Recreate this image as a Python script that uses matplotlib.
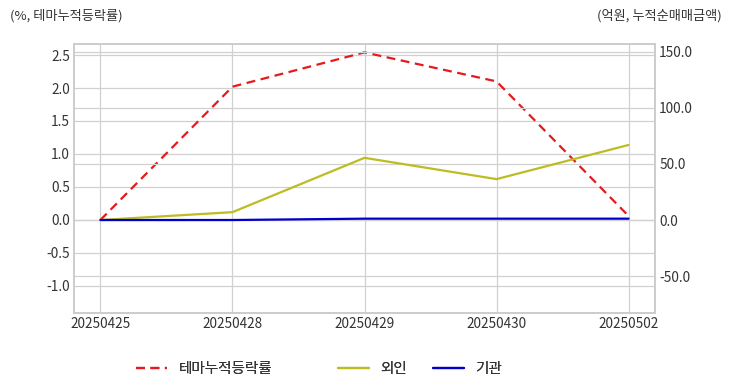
import matplotlib
matplotlib.use("Agg")
import matplotlib.pyplot as plt
import seaborn as sns

sns.set_style("whitegrid")
plt.rcParams["font.family"] = ["Noto Sans CJK KR", "DejaVu Sans"]

dates = ["20250425", "20250428", "20250429", "20250430", "20250502"]
theme_return = [0.0, 2.02, 2.54, 2.10, 0.06]   # %, 테마누적등락률
foreign = [0.0, 7.0, 55.5, 36.5, 67.0]          # 억원, 외인
institution = [0.0, 0.0, 1.2, 1.2, 1.2]         # 억원, 기관

fig = plt.figure(figsize=(7.32, 3.92), dpi=100)
ax = fig.add_axes([74 / 732, 1 - 313 / 392, 581 / 732, 269 / 392])
ax2 = ax.twinx()

x = list(range(len(dates)))
l1, = ax.plot(x, theme_return, color="#e41a1c", ls="--", lw=1.6, dashes=(4, 2.5), label="테마누적등락률")
l2, = ax2.plot(x, foreign, color="#bcbd22", lw=1.6, label="외인")
l3, = ax2.plot(x, institution, color="#0000cc", lw=1.6, label="기관")

ax.set_xlim(-0.2, 4.2)
ax.set_ylim(-1.41, 2.667)
ax2.set_ylim(-83, 157.1)
ax.set_yticks([-1.0, -0.5, 0.0, 0.5, 1.0, 1.5, 2.0, 2.5])
ax.set_yticklabels([f"{v:.1f}" for v in ax.get_yticks()])
ax2.set_yticks([-50, 0, 50, 100, 150])
ax2.set_yticklabels([f"{v:.1f}" for v in ax2.get_yticks()])
ax.set_xticks(x)
ax.set_xticklabels(dates)

for a in (ax, ax2):
    a.tick_params(labelsize=9.8, colors="#333333", length=0, pad=3)
    a.grid(True, color="#d0d0d0", lw=0.9)
    for s in a.spines.values():
        s.set_color("#cccccc")
        s.set_linewidth(1.2)
ax2.grid(True, axis="y", color="#d0d0d0", lw=0.9)
ax2.grid(False, axis="x")

fig.text(10 / 732, 1 - 16 / 392, "(%, 테마누적등락률)", fontsize=9.5, color="#333333", va="center")
fig.text(722 / 732, 1 - 16 / 392, "(억원, 누적순매매금액)", fontsize=9.5, color="#333333", va="center", ha="right")

# legend entries placed separately to match the uneven spacing
for h, xpos in [(l1, 136), (l2, 338), (l3, 433)]:
    leg = fig.legend(handles=[h], loc="center left", bbox_to_anchor=(xpos / 732, 1 - 369 / 392),
                     frameon=False, fontsize=10.5, handlelength=2.1, handletextpad=0.8,
                     borderpad=0, borderaxespad=0, labelcolor="#333333")
    fig.add_artist(leg)

fig.savefig("out.png", dpi=100)
